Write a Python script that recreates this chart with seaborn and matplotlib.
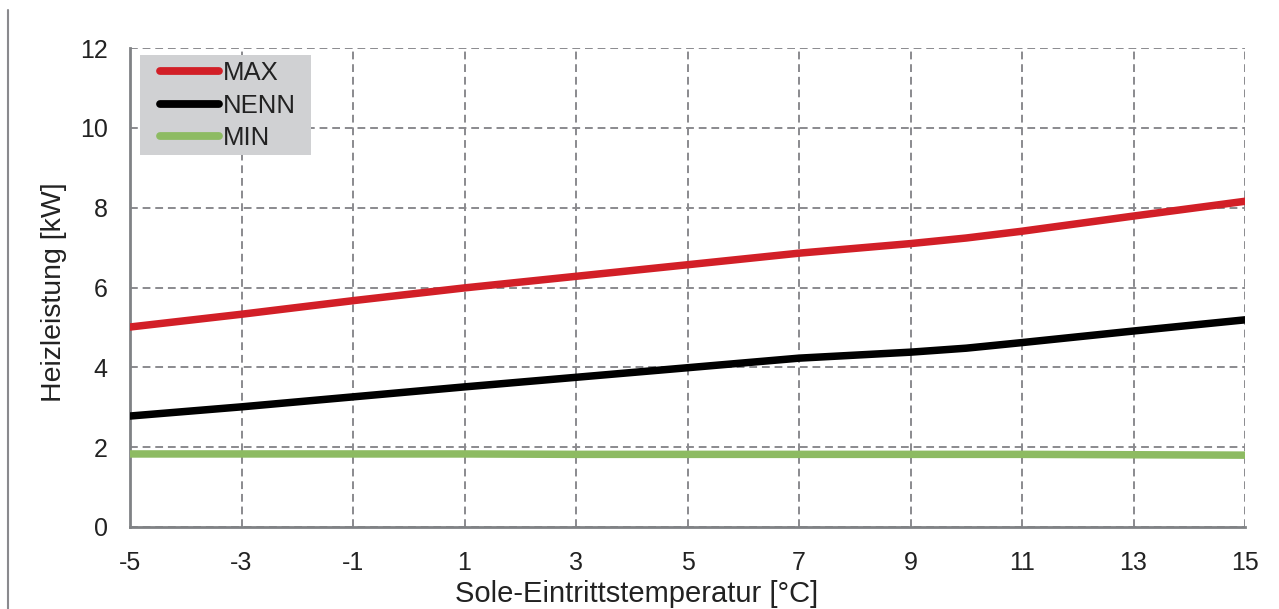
import matplotlib
matplotlib.use("Agg")
import matplotlib.pyplot as plt
import seaborn as sns
import pandas as pd
from matplotlib.lines import Line2D
from matplotlib.patches import Rectangle

temps = [-5, -3, -1, 1, 3, 5, 7, 9, 10, 11, 13, 15]
max_kw = [5.01, 5.33, 5.67, 5.99, 6.28, 6.57, 6.86, 7.10, 7.24, 7.41, 7.79, 8.16]
nenn_kw = [2.78, 3.01, 3.26, 3.51, 3.75, 3.99, 4.23, 4.38, 4.48, 4.62, 4.91, 5.19]
min_kw = [1.83, 1.83, 1.83, 1.83, 1.82, 1.82, 1.82, 1.82, 1.82, 1.82, 1.81, 1.80]
series_names = ["MAX", "NENN", "MIN"]
colors = ["#D21F27", "#000000", "#8DBB62"]
xticks = [-5, -3, -1, 1, 3, 5, 7, 9, 11, 13, 15]
xticklabels = ["-5", "-3", "-1", "1", "3", "5", "7", "9", "11", "13", "15"]
yticks = [0, 2, 4, 6, 8, 10, 12]
yticklabels = ["0", "2", "4", "6", "8", "10", "12"]
xlabel = "Sole-Eintrittstemperatur [°C]"
ylabel = "Heizleistung [kW]"

df = pd.DataFrame({
    "T": temps * 3,
    "kW": max_kw + nenn_kw + min_kw,
    "Serie": [s for s in series_names for _ in temps],
})

sns.set_style("white")
plt.rcParams["font.family"] = ["Liberation Sans", "DejaVu Sans"]

fig = plt.figure(figsize=(12.79, 6.09), dpi=100)
W, H = 1115, 479
ax = fig.add_axes([130 / 1279, 82 / 609, W / 1279, H / 609])

sns.lineplot(data=df, x="T", y="kW", hue="Serie", hue_order=series_names,
             palette=dict(zip(series_names, colors)), linewidth=5.4,
             ax=ax, legend=False, zorder=3)

ax.set_xlim(-5, 15)
ax.set_ylim(0, 12)
ax.set_xticks(xticks, xticklabels)
ax.set_yticks(yticks, yticklabels)
ax.tick_params(axis="both", labelsize=18, colors="#222222", length=0)
ax.tick_params(axis="x", pad=17)
ax.tick_params(axis="y", pad=16)
ax.set_xlabel(xlabel, fontsize=21, color="#222222")
ax.xaxis.set_label_coords((637 - 130) / W, -(594 - 527) / H)
ax.set_ylabel(ylabel, fontsize=20.5, color="#222222")
ax.yaxis.set_label_coords(-(130 - 54) / W, (527 - 292) / H)
ax.xaxis.label.set_va("center")
ax.yaxis.label.set_va("center")

ax.grid(True, linestyle=(0, (4, 2.5)), color="#8a8a8e", linewidth=1.4)
ax.set_axisbelow(True)
for side in ["top", "right"]:
    ax.spines[side].set_visible(False)
for side in ["left", "bottom"]:
    ax.spines[side].set_color("#808285")
    ax.spines[side].set_linewidth(2)

# legend background box
ax.add_patch(Rectangle((10 / W, (527 - 155) / H), 171 / W, 100 / H,
                       transform=ax.transAxes, facecolor="#D0D1D3",
                       edgecolor="none", zorder=4))

handles = [Line2D([0], [0], color=c, lw=5.6, solid_capstyle="round") for c in colors]
leg = ax.legend(handles, series_names, loc="upper left",
                bbox_to_anchor=(30 / W, (527 - 61) / H), borderaxespad=0,
                borderpad=0, fontsize=18.5, frameon=False,
                handlelength=2.3, handletextpad=0.15, labelspacing=0.34)
leg.set_zorder(5)
for t in leg.get_texts():
    t.set_color("#222222")

fig.add_artist(Line2D([8 / 1279, 8 / 1279], [0, 1 - 10 / 609],
                      color="#8a8a8e", lw=1.5, transform=fig.transFigure))

fig.savefig("out.png", dpi=100)
